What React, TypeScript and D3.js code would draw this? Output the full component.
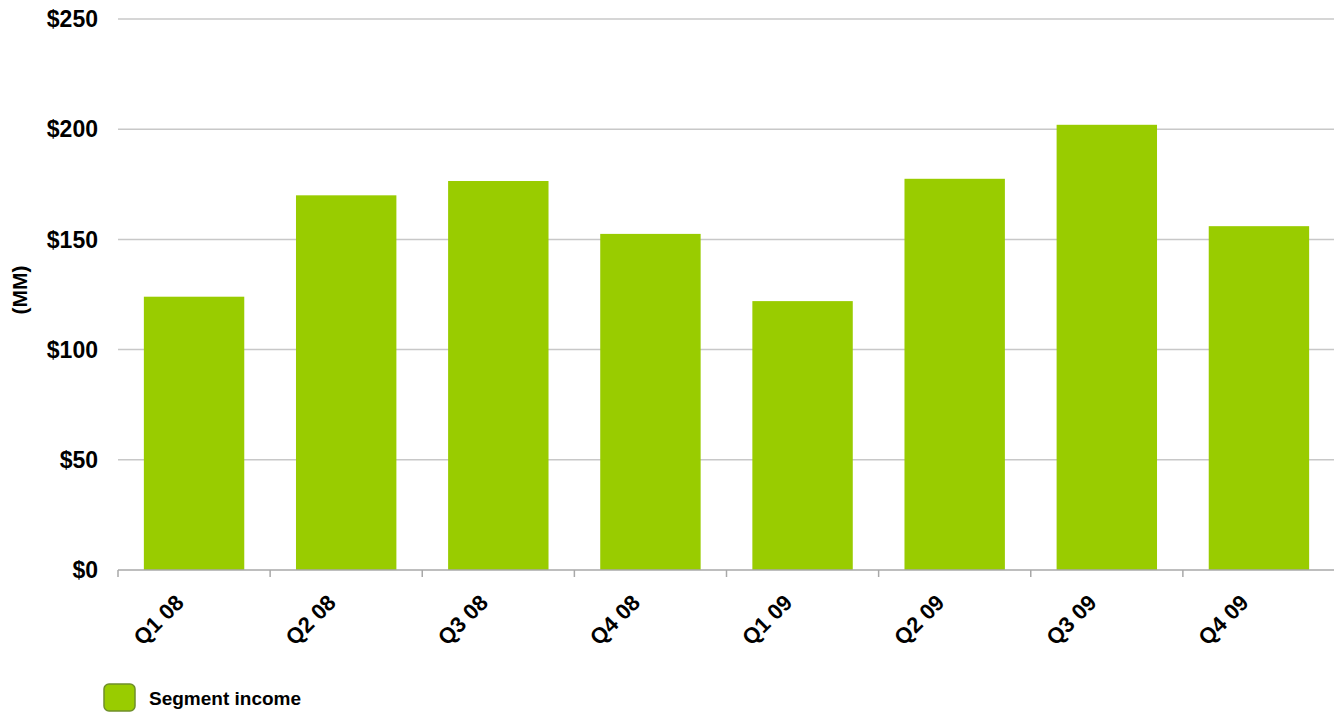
import React from "react";
import * as d3 from "d3";

const categories = ["Q1 08", "Q2 08", "Q3 08", "Q4 08", "Q1 09", "Q2 09", "Q3 09", "Q4 09"];
const segmentIncome = [124, 170, 176.5, 152.5, 122, 177.5, 202, 156];
const yTicks = [0, 50, 100, 150, 200, 250];
const seriesName = "Segment income";

const W = 1334;
const H = 713;
const left = 118;
const right = 1335;
const top = 19;
const bottom = 570;

export default function App() {
  const x = d3.scaleBand<string>().domain(categories).range([left, right]).paddingInner(0.34).paddingOuter(0.17);
  const xb = d3.scaleBand<string>().domain(categories).range([left, right]).padding(0);
  const y = d3.scaleLinear().domain([0, 250]).range([bottom, top]);
  const font = "Arial, 'Liberation Sans', sans-serif";
  return (
    <svg width={W} height={H} style={{ position: "absolute", left: 0, top: 0, background: "#fff" }}>
      {yTicks.filter(t => t > 0).map(t => (
        <line key={"g" + t} x1={left} x2={right} y1={y(t)} y2={y(t)} stroke="#c8c8c8" strokeWidth={1.5} />
      ))}
      {categories.map((c, i) => (
        <rect key={c} x={x(c)} y={y(segmentIncome[i])} width={x.bandwidth()} height={bottom - y(segmentIncome[i])} fill="#99cc00" />
      ))}
      <line x1={left} x2={right} y1={bottom} y2={bottom} stroke="#a8a8a8" strokeWidth={1.5} />
      {categories.map(c => (
        <line key={"t" + c} x1={xb(c)} x2={xb(c)} y1={bottom} y2={bottom + 7} stroke="#a8a8a8" strokeWidth={1.5} />
      ))}
      {yTicks.map(t => (
        <text key={"y" + t} x={98} y={y(t)} dy="0.36em" textAnchor="end" fontFamily={font} fontWeight="bold" fontSize={23} fill="#000">
          {"$" + t}
        </text>
      ))}
      {categories.map(c => {
        const cx = (x(c) as number) + x.bandwidth() / 2 - 9;
        const cy = bottom + 34;
        return (
          <text key={"l" + c} x={cx} y={cy} textAnchor="end" transform={`rotate(-45 ${cx} ${cy})`} fontFamily={font} fontWeight="bold" fontSize={22} fill="#000">
            {c}
          </text>
        );
      })}
      <text x={0} y={0} transform={`translate(27 ${290}) rotate(-90)`} textAnchor="middle" fontFamily={font} fontWeight="bold" fontSize={21} fill="#000">
        (MM)
      </text>
      <rect x={104} y={684} width={31} height={27} rx={5} fill="#99cc00" stroke="#6f8f2a" strokeWidth={1.5} />
      <text x={149} y={705} fontFamily={font} fontWeight="bold" fontSize={19} fill="#000">{seriesName}</text>
    </svg>
  );
}
